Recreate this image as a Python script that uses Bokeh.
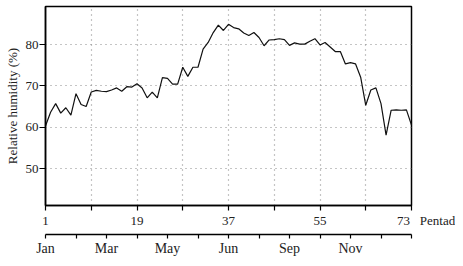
from bokeh.plotting import figure
from bokeh.models import (LinearAxis, Range1d, FixedTicker, ColumnDataSource)
from bokeh.embed import file_html
from bokeh.resources import INLINE

pentad = list(range(1, 74))
humidity = [60.3, 63.6, 65.7, 63.4, 64.7, 62.9, 68.1, 65.5, 65.0, 68.5,
            68.9, 68.7, 68.6, 69.0, 69.5, 68.7, 69.8, 69.7, 70.5, 69.5,
            67.1, 68.5, 67.1, 72.0, 71.8, 70.4, 70.4, 74.5, 72.3, 74.5,
            74.5, 78.9, 80.5, 82.9, 84.7, 83.4, 84.9, 84.1, 83.8, 82.8,
            82.2, 82.9, 81.7, 79.7, 81.1, 81.2, 81.4, 81.2, 79.8, 80.4,
            80.1, 80.1, 80.8, 81.4, 79.9, 80.5, 79.4, 78.3, 78.3, 75.3,
            75.6, 75.3, 72.1, 65.3, 69.0, 69.5, 65.7, 58.1, 64.1, 64.2,
            64.1, 64.2, 60.5]

NB = "\u00a0"
pentad_ticks = [1, 10, 19, 28, 37, 46, 55, 64, 73]
pentad_labels = {1: "1", 10: "", 19: "19", 28: "", 37: "37", 46: "", 55: "55", 64: "",
                 73: NB * 9 + "73" + NB * 3 + "Pentad"}
y_ticks = [50, 60, 70, 80]
month_ticks = list(range(0, 13))
month_labels = {0: "Jan", 2: "Mar", 4: "May", 6: "Jun", 8: "Sep", 10: "Nov"}

FONT = "Liberation Serif"
TXT = "#222222"

p = figure(width=455, height=258, output_backend="svg", toolbar_location=None,
           x_range=Range1d(1, 73), y_range=Range1d(41.05, 89.2),
           min_border_left=45, min_border_right=44, min_border_top=6, min_border_bottom=53)
p.outline_line_color = "black"
p.outline_line_width = 1.5
p.background_fill_color = "white"
p.border_fill_color = "white"

src = ColumnDataSource(dict(x=pentad, y=humidity))
p.line("x", "y", source=src, line_color="#111111", line_width=1.2)

p.xgrid.ticker = FixedTicker(ticks=pentad_ticks[1:-1])
p.ygrid.ticker = FixedTicker(ticks=y_ticks)
for g in (p.xgrid, p.ygrid):
    g.grid_line_color = "#8a8a8a"
    g.grid_line_dash = "1 4"
    g.grid_line_width = 1.2

xa = p.xaxis[0]
xa.ticker = FixedTicker(ticks=pentad_ticks)
xa.major_label_overrides = pentad_labels
xa.minor_tick_line_color = None
xa.major_tick_in = 0
xa.major_tick_out = 5
xa.major_label_standoff = 2
xa.axis_line_width = 1.5
xa.major_tick_line_width = 1.2
xa.major_label_text_font = FONT
xa.major_label_text_font_size = "13px"
xa.major_label_text_color = TXT
xa.axis_label = NB
xa.axis_label_text_font_size = "1px"
xa.axis_label_standoff = 0

ya = p.yaxis[0]
ya.ticker = FixedTicker(ticks=y_ticks)
ya.minor_tick_line_color = None
ya.major_tick_in = 0
ya.major_tick_out = 6
ya.major_label_standoff = 1
ya.axis_line_width = 1.5
ya.major_tick_line_width = 1.2
ya.major_label_text_font = FONT
ya.major_label_text_font_size = "13px"
ya.major_label_text_color = TXT
ya.axis_label = "Relative humidity (%)"
ya.axis_label_text_font = FONT
ya.axis_label_text_font_style = "normal"
ya.axis_label_text_font_size = "13px"
ya.axis_label_text_color = TXT
ya.axis_label_standoff = 3

p.extra_x_ranges = {"month": Range1d(0, 12)}
ma = LinearAxis(x_range_name="month")
ma.ticker = FixedTicker(ticks=month_ticks)
ma.major_label_overrides = {t: month_labels.get(t, "") for t in month_ticks}
ma.minor_tick_line_color = None
ma.major_tick_in = 0
ma.major_tick_out = 4
ma.major_label_standoff = 2
ma.axis_line_color = "black"
ma.axis_line_width = 1.5
ma.major_tick_line_color = "black"
ma.major_tick_line_width = 1.2
ma.major_label_text_font = FONT
ma.major_label_text_font_size = "14px"
ma.major_label_text_color = TXT
p.add_layout(ma, "below")

open("out.html", "w").write(file_html(p, INLINE))
